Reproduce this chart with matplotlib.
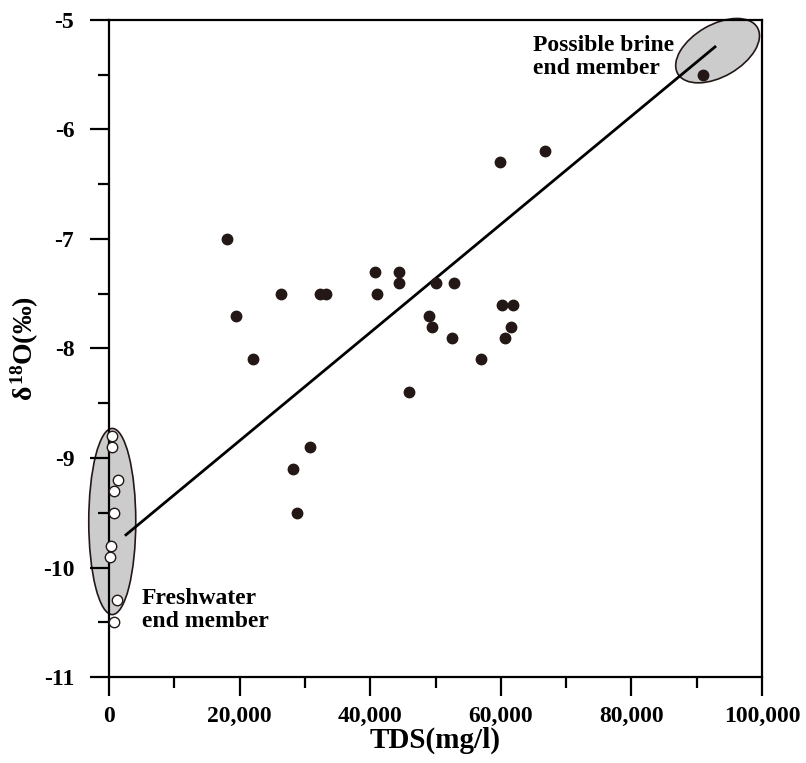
import matplotlib
matplotlib.use("Agg")
import numpy as np
import matplotlib.pyplot as plt
from matplotlib.patches import Ellipse
from matplotlib.transforms import ScaledTranslation
from matplotlib.ticker import FuncFormatter, MultipleLocator

# data
brine_tds = [18100, 19400, 22000, 26300, 32300, 33300, 40800, 41100, 44400, 44400,
             50100, 52900, 49000, 49500, 52500, 45900, 56900, 60200, 61900, 61600,
             60700, 30800, 59900, 66800, 91000, 28200, 28800]
brine_d18o = [-7.0, -7.7, -8.1, -7.5, -7.5, -7.5, -7.3, -7.5, -7.3, -7.4,
              -7.4, -7.4, -7.7, -7.8, -7.9, -8.4, -8.1, -7.6, -7.6, -7.8,
              -7.9, -8.9, -6.3, -6.2, -5.5, -9.1, -9.5]

fresh_tds = [500, 400, 1400, 700, 700, 300, 150, 1300, 800]
fresh_d18o = [-8.8, -8.9, -9.2, -9.3, -9.5, -9.8, -9.9, -10.3, -10.5]

# mixing line
fit_slope = 4.94e-5
fit_intercept = -9.83
fit_x = [2600, 92800]

# end member ellipses
fresh_center = (500, -9.58)
fresh_size = (7200, 1.70)
brine_center = (93200, -5.28)

plt.rcParams['font.family'] = ['Liberation Serif', 'DejaVu Serif']
plt.rcParams['font.weight'] = 'bold'
plt.rcParams['mathtext.fontset'] = 'custom'
plt.rcParams['mathtext.rm'] = 'Liberation Serif:bold'
plt.rcParams['mathtext.it'] = 'Liberation Serif:bold'
plt.rcParams['mathtext.bf'] = 'Liberation Serif:bold'

fig = plt.figure(figsize=(8.06, 7.63), dpi=100)
ax = fig.add_axes([109 / 806, 1 - 677 / 763, (762 - 109) / 806, (677 - 20) / 763])

dark = '#231815'

# ellipses first so points sit on top
ax.add_patch(Ellipse(fresh_center, fresh_size[0], fresh_size[1], facecolor='#cccccc',
                     edgecolor=dark, lw=1.2, zorder=1, clip_on=False))
tr = fig.dpi_scale_trans + ScaledTranslation(brine_center[0], brine_center[1], ax.transData)
ax.add_patch(Ellipse((0, 0), 0.92, 0.52, angle=30, transform=tr, facecolor='#cccccc',
                     edgecolor=dark, lw=1.2, zorder=1, clip_on=False))

xs = np.array(fit_x)
ax.plot(xs, fit_intercept + fit_slope * xs, color='black', lw=2.0, zorder=2, clip_on=False)

ax.plot(brine_tds, brine_d18o, 'o', color=dark, ms=7.5, zorder=3)
ax.plot(fresh_tds, fresh_d18o, 'o', mfc='white', mec=dark, mew=1.0, ms=7.5, zorder=3, clip_on=False)

ax.text(65000, -5.34, 'Possible brine\nend member', ha='left', va='center',
        fontsize=17, fontweight='bold', linespacing=1.1, zorder=4)
ax.text(5000, -10.39, 'Freshwater\nend member', ha='left', va='center',
        fontsize=17, fontweight='bold', linespacing=1.1, zorder=4)

ax.set_xlim(0, 100000)
ax.set_ylim(-11, -5)
ax.xaxis.set_major_locator(MultipleLocator(20000))
ax.xaxis.set_minor_locator(MultipleLocator(10000))
ax.yaxis.set_major_locator(MultipleLocator(1))
ax.yaxis.set_minor_locator(MultipleLocator(0.5))
ax.xaxis.set_major_formatter(FuncFormatter(lambda v, p: '0' if v == 0 else f'{int(v):,}'))
ax.yaxis.set_major_formatter(FuncFormatter(lambda v, p: f'{int(round(v))}'))

ax.tick_params(which='major', direction='out', length=14, width=1.6, labelsize=17)
ax.tick_params(axis='x', pad=7)
ax.tick_params(axis='y', pad=11)
ax.tick_params(which='minor', direction='out', length=8, width=1.6)
ax.tick_params(top=False, right=False, which='both')
for sp in ax.spines.values():
    sp.set_linewidth(1.6)

ax.set_xlabel('TDS(mg/l)', fontsize=21, fontweight='bold', labelpad=0)
ax.set_ylabel(r'$\delta^{18}$O(‰)', fontsize=20, fontweight='bold', labelpad=1)

fig.savefig('out.png', dpi=100)
